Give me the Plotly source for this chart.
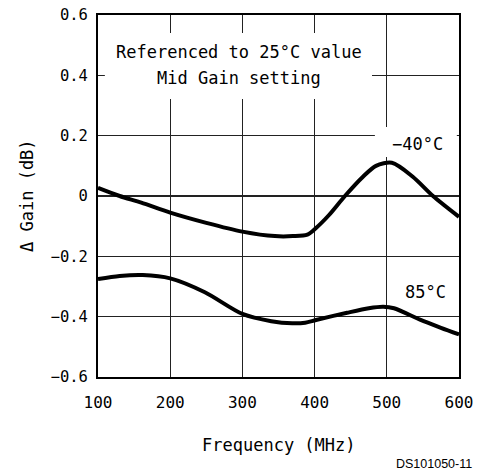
import plotly.graph_objects as go

freq_m40 = [100, 130, 160, 200, 250, 300, 345, 370, 390, 402, 420, 442, 467, 485, 507, 536, 564, 600]
gain_m40 = [0.027, 0.0, -0.022, -0.055, -0.089, -0.118, -0.133, -0.133, -0.128, -0.106, -0.063, 0.0, 0.064, 0.100, 0.110, 0.064, 0.0, -0.069]

freq_85 = [100, 130, 162, 200, 248, 300, 340, 369, 387, 402, 445, 475, 495, 510, 546, 575, 600]
gain_85 = [-0.275, -0.265, -0.262, -0.273, -0.319, -0.391, -0.415, -0.422, -0.420, -0.411, -0.387, -0.372, -0.367, -0.372, -0.410, -0.437, -0.459]

x_ticks = [100, 200, 300, 400, 500, 600]
y_ticks = [-0.6, -0.4, -0.2, 0, 0.2, 0.4, 0.6]
y_ticklabels = ["−0.6", "−0.4", "−0.2", "0", "0.2", "0.4", "0.6"]

MONO = "DejaVu Sans Mono"
OFF = 0  # page body margin removed by post_script
W, H = 480 - OFF, 474 - OFF
# plot area in screen pixels: x 98..459, y 15..377
L, R, T, B = 98 - OFF, 480 - 459, 15 - OFF, 474 - 377
PW, PH = W - L - R, H - T - B

def px(x):
    return (x - OFF - L) / PW

def py(y):
    return 1 - (y - OFF - T) / PH

fig = go.Figure()
for fx, gy in [(freq_m40, gain_m40), (freq_85, gain_85)]:
    fig.add_trace(go.Scatter(x=fx, y=gy, mode="lines",
                             line=dict(color="black", width=4, shape="spline", smoothing=0.8),
                             showlegend=False, hoverinfo="skip"))

# white boxes covering gridlines behind labels
fig.add_shape(type="rect", xref="x", yref="y", x0=109.5, x1=479.5, y0=0.3215, y1=0.540,
              fillcolor="white", line=dict(width=0), layer="between")
fig.add_shape(type="rect", xref="x", yref="y", x0=483.5, x1=597, y0=0.129, y1=0.229,
              fillcolor="white", line=dict(width=0), layer="between")

txt = dict(family=MONO, size=17, color="black")
common = dict(showarrow=False, xanchor="center", yanchor="middle", font=txt)
fig.add_annotation(x=px(238.5), xref="paper", y=py(52), yref="paper",
                   text="Referenced to 25°C value", **common)
fig.add_annotation(x=px(238.5), xref="paper", y=py(78), yref="paper",
                   text="Mid Gain setting", **common)
fig.add_annotation(x=543, xref="x", y=0.171, yref="y", text="−40°C", **common)
fig.add_annotation(x=553, xref="x", y=-0.318, yref="y", text="85°C", **common)
fig.add_annotation(x=px(278.5), xref="paper", y=py(445), yref="paper",
                   text="Frequency (MHz)", **common)
fig.add_annotation(x=px(27), xref="paper", y=py(196), yref="paper", textangle=-90,
                   text="Δ Gain (dB)", **common)
fig.add_annotation(x=px(474), xref="paper", xanchor="right", y=py(463.5), yref="paper",
                   yanchor="middle", text="DS101050-11", showarrow=False,
                   font=dict(family="Liberation Sans", size=12.5, color="black"))

fig.update_layout(
    width=W, height=H,
    margin=dict(l=L, r=R, t=T, b=B, autoexpand=False),
    paper_bgcolor="white", plot_bgcolor="white",
    hovermode=False,
    xaxis=dict(range=[100, 600], tickvals=x_ticks, ticktext=[str(v) for v in x_ticks],
               showgrid=True, gridcolor="#222", gridwidth=1.3, zeroline=False,
               showline=True, linecolor="black", linewidth=2, mirror=True,
               ticks="", ticklabelstandoff=10, automargin=False,
               ticklabeloverflow="allow",
               tickfont=dict(family=MONO, size=16, color="black")),
    yaxis=dict(range=[-0.6, 0.6], tickvals=y_ticks, ticktext=y_ticklabels,
               showgrid=True, gridcolor="#222", gridwidth=1.3, zeroline=False,
               showline=True, linecolor="black", linewidth=2, mirror=True,
               ticks="", ticklabelstandoff=5, automargin=False,
               ticklabeloverflow="allow",
               tickfont=dict(family=MONO, size=15.5, color="black")),
)

fig.write_html("out.html",
               config={"displayModeBar": False, "staticPlot": True},
               post_script="document.body.style.margin='0';document.body.style.overflow='hidden';")
